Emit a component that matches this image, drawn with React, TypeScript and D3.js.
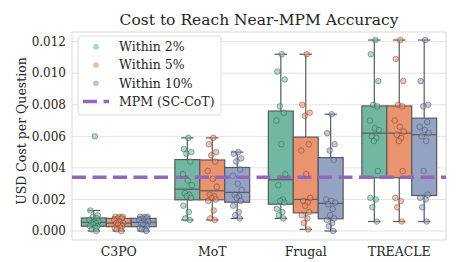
import React, { useRef, useEffect } from 'react';
import * as d3 from 'd3';

const categories = ['C3PO', 'MoT', 'Frugal', 'TREACLE'];
const seriesNames = ['Within 2%', 'Within 5%', 'Within 10%'];
const pointColors = ['#66c2a5', '#fc8d62', '#8da0cb'];
const boxColors = ['#72b7a1', '#e9936f', '#94a3c4'];

// one array per category, in the order of `categories`
const within2 = [
  [0.0060, 0.0013, 0.0010, 0.0009, 0.0008, 0.0007, 0.0006, 0.0006, 0.0005, 0.0005, 0.0004, 0.0003, 0.0003, 0.0002, 0.0001, 0.0000],
  [0.0059, 0.0052, 0.0050, 0.0049, 0.0044, 0.0036, 0.0032, 0.0029, 0.0024, 0.0023, 0.0022, 0.0021, 0.0016, 0.0012, 0.0008, 0.0007],
  [0.0112, 0.0101, 0.0096, 0.0079, 0.0075, 0.0070, 0.0055, 0.0036, 0.0029, 0.0020, 0.0019, 0.0018, 0.0014, 0.0012, 0.0010, 0.0008],
  [0.0121, 0.0112, 0.0095, 0.0080, 0.0079, 0.0070, 0.0065, 0.0064, 0.0060, 0.0059, 0.0057, 0.0038, 0.0021, 0.0020, 0.0015, 0.0006],
];
const within5 = [
  [0.0009, 0.0009, 0.0009, 0.0008, 0.0008, 0.0007, 0.0006, 0.0005, 0.0005, 0.0004, 0.0004, 0.0003, 0.0002, 0.0002, 0.0001, 0.0000],
  [0.0059, 0.0055, 0.0050, 0.0048, 0.0044, 0.0038, 0.0033, 0.0028, 0.0023, 0.0022, 0.0021, 0.0020, 0.0019, 0.0013, 0.0008, 0.0007],
  [0.0112, 0.0080, 0.0075, 0.0073, 0.0055, 0.0051, 0.0036, 0.0021, 0.0019, 0.0018, 0.0016, 0.0012, 0.0010, 0.0008, 0.0005, 0.0001],
  [0.0121, 0.0109, 0.0095, 0.0080, 0.0079, 0.0070, 0.0066, 0.0063, 0.0061, 0.0059, 0.0057, 0.0038, 0.0021, 0.0019, 0.0015, 0.0006],
];
const within10 = [
  [0.0009, 0.0009, 0.0009, 0.0008, 0.0008, 0.0007, 0.0006, 0.0006, 0.0005, 0.0004, 0.0004, 0.0003, 0.0002, 0.0001, 0.0001, 0.0000],
  [0.0050, 0.0049, 0.0046, 0.0044, 0.0039, 0.0035, 0.0030, 0.0026, 0.0023, 0.0022, 0.0021, 0.0019, 0.0016, 0.0012, 0.0010, 0.0008],
  [0.0074, 0.0062, 0.0055, 0.0051, 0.0045, 0.0020, 0.0019, 0.0018, 0.0017, 0.0014, 0.0010, 0.0008, 0.0007, 0.0005, 0.0003, 0.0000],
  [0.0121, 0.0095, 0.0080, 0.0079, 0.0069, 0.0066, 0.0064, 0.0062, 0.0060, 0.0057, 0.0038, 0.0023, 0.0021, 0.0020, 0.0015, 0.0006],
];
const seriesData = [within2, within5, within10];

const mpmCost = 0.0034;
const mpmLabel = 'MPM (SC-CoT)';
const yTicks = [0, 0.002, 0.004, 0.006, 0.008, 0.01, 0.012];
// fixed horizontal spread for the strip points (fraction of half-box width)
const jitter = [0.1, -0.35, 0.4, -0.1, 0.3, -0.45, 0.05, 0.45, -0.25, 0.2, -0.05, 0.35, -0.4, 0.15, -0.2, 0.25];

const font = '"DejaVu Serif", serif';
const textColor = '#262626';

export default function App() {
  const svgRef = useRef<SVGSVGElement>(null);
  const width = 460;
  const height = 262;

  useEffect(() => {
    if (!svgRef.current) return;
    const svg = d3.select(svgRef.current);
    svg.selectAll('*').remove();

    const left = 72, right = 446, top = 32, bottom = 240;

    const x = d3.scaleBand().domain(categories).range([left, right]).padding(0);
    const hue = d3.scaleBand().domain(seriesNames).range([0, x.bandwidth() * 0.8]).padding(0);
    const y = d3.scaleLinear().domain([-0.00057, 0.01261]).range([bottom, top]);

    // grid
    svg.append('g')
      .selectAll('line')
      .data(yTicks)
      .enter().append('line')
      .attr('x1', left).attr('x2', right)
      .attr('y1', d => y(d)).attr('y2', d => y(d))
      .attr('stroke', '#e3e3e3').attr('stroke-width', 1);

    svg.append('rect')
      .attr('x', left).attr('y', top)
      .attr('width', right - left).attr('height', bottom - top)
      .attr('fill', 'none').attr('stroke', '#d9d9d9').attr('stroke-width', 1);

    // y ticks
    svg.append('g')
      .selectAll('text')
      .data(yTicks)
      .enter().append('text')
      .attr('x', left - 6).attr('y', d => y(d)).attr('dy', '0.35em')
      .attr('text-anchor', 'end')
      .attr('font-family', font).attr('font-size', 12).attr('fill', textColor)
      .text(d => d3.format('.3f')(d));

    // x ticks
    svg.append('g')
      .selectAll('text')
      .data(categories)
      .enter().append('text')
      .attr('x', d => (x(d) as number) + x.bandwidth() / 2)
      .attr('y', bottom + 16)
      .attr('text-anchor', 'middle')
      .attr('font-family', font).attr('font-size', 12.5).attr('fill', textColor)
      .text(d => d);

    svg.append('text')
      .attr('transform', `translate(26,${(top + bottom) / 2 - 5}) rotate(-90)`)
      .attr('text-anchor', 'middle')
      .attr('font-family', font).attr('font-size', 12.5).attr('fill', textColor)
      .text('USD Cost per Question');

    svg.append('text')
      .attr('x', (left + right) / 2).attr('y', 25)
      .attr('text-anchor', 'middle')
      .attr('font-family', font).attr('font-size', 15.5).attr('fill', textColor)
      .text('Cost to Reach Near-MPM Accuracy');

    const boxW = hue.bandwidth();
    const edge = '#5a5a5a';

    // boxes
    seriesData.forEach((series, si) => {
      series.forEach((vals, ci) => {
        const sorted = vals.slice().sort(d3.ascending);
        const q1 = d3.quantile(sorted, 0.25) as number;
        const med = d3.quantile(sorted, 0.5) as number;
        const q3 = d3.quantile(sorted, 0.75) as number;
        const iqr = q3 - q1;
        const lo = d3.min(sorted.filter(v => v >= q1 - 1.5 * iqr)) as number;
        const hi = d3.max(sorted.filter(v => v <= q3 + 1.5 * iqr)) as number;
        const x0 = (x(categories[ci]) as number) + x.bandwidth() * 0.1 + (hue(seriesNames[si]) as number);
        const cx = x0 + boxW / 2;
        const g = svg.append('g');
        g.append('line').attr('x1', cx).attr('x2', cx).attr('y1', y(q3)).attr('y2', y(hi))
          .attr('stroke', edge).attr('stroke-width', 1.2);
        g.append('line').attr('x1', cx).attr('x2', cx).attr('y1', y(q1)).attr('y2', y(lo))
          .attr('stroke', edge).attr('stroke-width', 1.2);
        [lo, hi].forEach(v => {
          g.append('line').attr('x1', cx - boxW / 4).attr('x2', cx + boxW / 4)
            .attr('y1', y(v)).attr('y2', y(v))
            .attr('stroke', edge).attr('stroke-width', 1.2);
        });
        g.append('rect')
          .attr('x', x0).attr('y', y(q3))
          .attr('width', boxW).attr('height', y(q1) - y(q3))
          .attr('fill', boxColors[si]).attr('stroke', edge).attr('stroke-width', 1.2);
        g.append('line').attr('x1', x0).attr('x2', x0 + boxW).attr('y1', y(med)).attr('y2', y(med))
          .attr('stroke', edge).attr('stroke-width', 1.2);
      });
    });

    // reference line
    svg.append('line')
      .attr('x1', left).attr('x2', right)
      .attr('y1', y(mpmCost)).attr('y2', y(mpmCost))
      .attr('stroke', '#9467bd').attr('stroke-width', 3.5)
      .attr('stroke-dasharray', '14,6.5');

    // strip points
    seriesData.forEach((series, si) => {
      series.forEach((vals, ci) => {
        const cx = (x(categories[ci]) as number) + x.bandwidth() * 0.1 + (hue(seriesNames[si]) as number) + boxW / 2;
        svg.append('g')
          .selectAll('circle')
          .data(vals)
          .enter().append('circle')
          .attr('cx', (d, i) => cx + jitter[i % jitter.length] * boxW * 0.4)
          .attr('cy', d => y(d))
          .attr('r', 2.8)
          .attr('fill', pointColors[si]).attr('fill-opacity', 0.55)
          .attr('stroke', '#3a3a3a').attr('stroke-opacity', 0.6).attr('stroke-width', 0.7);
      });
    });

    // legend
    const lg = svg.append('g').attr('transform', 'translate(78,36)');
    lg.append('rect')
      .attr('width', 143).attr('height', 79).attr('rx', 3)
      .attr('fill', 'white').attr('fill-opacity', 0.85)
      .attr('stroke', '#dcdcdc').attr('stroke-width', 1);
    const rowY = (i: number) => 10.7 + i * 18.3;
    seriesNames.forEach((name, i) => {
      lg.append('circle').attr('cx', 18).attr('cy', rowY(i)).attr('r', 2.6)
        .attr('fill', pointColors[i]).attr('fill-opacity', 0.6)
        .attr('stroke', '#3a3a3a').attr('stroke-opacity', 0.15).attr('stroke-width', 0.6);
      lg.append('text').attr('x', 41).attr('y', rowY(i)).attr('dy', '0.35em')
        .attr('font-family', font).attr('font-size', 12.5).attr('fill', textColor)
        .text(name);
    });
    lg.append('line').attr('x1', 5).attr('x2', 31).attr('y1', rowY(3)).attr('y2', rowY(3))
      .attr('stroke', '#9467bd').attr('stroke-width', 3.5).attr('stroke-dasharray', '14,6.5');
    lg.append('text').attr('x', 41).attr('y', rowY(3)).attr('dy', '0.35em')
      .attr('font-family', font).attr('font-size', 12.5).attr('fill', textColor)
      .text(mpmLabel);
  }, []);

  return (
    <svg
      ref={svgRef}
      width={width}
      height={height}
      style={{ position: 'absolute', left: 0, top: 0, background: 'white' }}
    />
  );
}
